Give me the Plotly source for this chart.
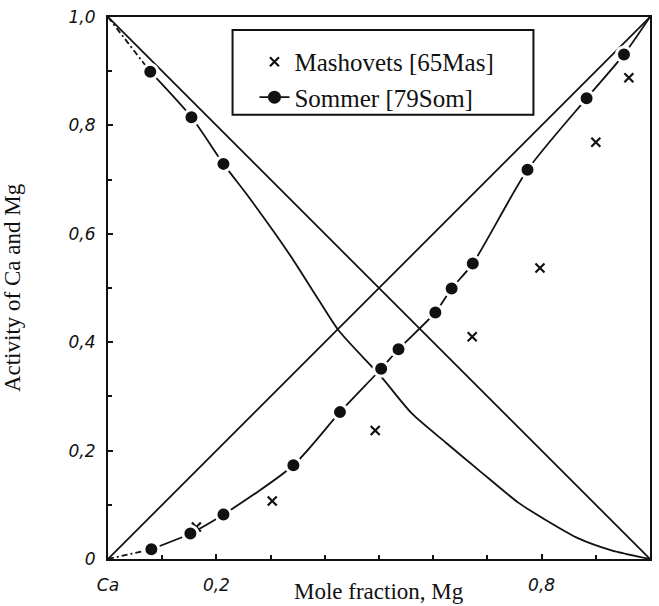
import plotly.graph_objects as go

# ---- data ----
ideal_x = [0.0, 1.0]
raoult_mg = [0.0, 1.0]
raoult_ca = [1.0, 0.0]

# Ca activity curve (solid)
ca_curve_x = [0.078, 0.154, 0.213, 0.261, 0.335, 0.390, 0.426, 0.505, 0.561, 0.623, 0.684, 0.757, 0.806, 0.868, 0.929, 1.0]
ca_curve_y = [0.899, 0.815, 0.729, 0.666, 0.562, 0.476, 0.421, 0.335, 0.268, 0.215, 0.164, 0.104, 0.073, 0.038, 0.016, 0.0]
ca_start_x = [0.0, 0.078]
ca_start_y = [1.0, 0.899]

# Sommer [79Som] data
som_ca_x = [0.078, 0.154, 0.213]
som_ca_y = [0.899, 0.815, 0.729]
som_mg_x = [0.080, 0.152, 0.213, 0.342, 0.428, 0.504, 0.536, 0.604, 0.634, 0.673, 0.774, 0.883, 0.952]
som_mg_y = [0.018, 0.047, 0.082, 0.173, 0.271, 0.351, 0.387, 0.455, 0.499, 0.545, 0.718, 0.850, 0.931]
som_line_x = som_mg_x + [1.0]
som_line_y = som_mg_y + [1.0]
som_start_x = [0.0, 0.080]
som_start_y = [0.0, 0.018]

# Mashovets [65Mas] data
mas_x = [0.163, 0.303, 0.493, 0.672, 0.797, 0.900, 0.961]
mas_y = [0.059, 0.107, 0.237, 0.410, 0.537, 0.769, 0.888]

# axis ticks
x_tick_vals = [0.0, 0.2, 0.8, 1.0]
x_tick_text = ["Ca", "0,2", "0,8", "Mg"]
y_tick_vals = [0.0, 0.2, 0.4, 0.6, 0.8, 1.0]
y_tick_text = ["0", "0,2", "0,4", "0,6", "0,8", "1,0"]

INK = "#111111"
LW = 1.8

fig = go.Figure()

# ideal (Raoult) straight lines
fig.add_trace(go.Scatter(x=ideal_x, y=raoult_mg, mode="lines",
                         line=dict(color=INK, width=LW), showlegend=False, hoverinfo="skip"))
fig.add_trace(go.Scatter(x=ideal_x, y=raoult_ca, mode="lines",
                         line=dict(color=INK, width=LW), showlegend=False, hoverinfo="skip"))

# Ca activity curve
fig.add_trace(go.Scatter(x=ca_start_x, y=ca_start_y, mode="lines",
                         line=dict(color=INK, width=LW, dash="6px,3px,2px,3px"),
                         showlegend=False, hoverinfo="skip"))
fig.add_trace(go.Scatter(x=ca_curve_x, y=ca_curve_y, mode="lines",
                         line=dict(color=INK, width=LW, shape="spline", smoothing=0.7),
                         showlegend=False, hoverinfo="skip"))

# Sommer Mg line
fig.add_trace(go.Scatter(x=som_start_x, y=som_start_y, mode="lines",
                         line=dict(color=INK, width=LW, dash="6px,3px,2px,3px"),
                         showlegend=False, hoverinfo="skip"))
fig.add_trace(go.Scatter(x=som_line_x, y=som_line_y, mode="lines",
                         line=dict(color=INK, width=LW, shape="spline", smoothing=0.7),
                         showlegend=False, hoverinfo="skip"))

# Mashovets markers
fig.add_trace(go.Scatter(x=mas_x, y=mas_y, mode="markers", name="Mashovets [65Mas]",
                         marker=dict(symbol="x-thin", size=9, line=dict(color=INK, width=2.2), color=INK)))

# Sommer dots
dot = dict(symbol="circle", size=15, color=INK, line=dict(color="white", width=3))
fig.add_trace(go.Scatter(x=som_mg_x, y=som_mg_y, mode="markers", marker=dot,
                         showlegend=False, hoverinfo="x+y"))
fig.add_trace(go.Scatter(x=som_ca_x, y=som_ca_y, mode="markers", marker=dot,
                         showlegend=False, hoverinfo="x+y"))
# legend entry for Sommer (line + dot)
fig.add_trace(go.Scatter(x=[None], y=[None], mode="lines+markers", name="Sommer [79Som]",
                         marker=dict(symbol="circle", size=13, color=INK),
                         line=dict(color=INK, width=LW)))

tickfont = dict(family="DejaVu Sans", size=17, color=INK, style="italic")

fig.update_xaxes(range=[0, 1], showline=True, linecolor=INK, linewidth=2, mirror=True,
                 showgrid=False, zeroline=False,
                 tickmode="array", tickvals=x_tick_vals, ticktext=x_tick_text,
                 ticks="inside", ticklen=5, tickwidth=1.5, tickcolor=INK,
                 ticklabelstandoff=10, tickfont=tickfont,
                 minor=dict(dtick=0.1, ticks="inside", ticklen=4, tickwidth=1.5, tickcolor=INK, showgrid=False))
fig.update_yaxes(range=[0, 1], showline=True, linecolor=INK, linewidth=2, mirror=True,
                 showgrid=False, zeroline=False,
                 tickmode="array", tickvals=y_tick_vals, ticktext=y_tick_text,
                 ticks="inside", ticklen=5, tickwidth=1.5, tickcolor=INK,
                 ticklabelstandoff=7, tickfont=tickfont,
                 minor=dict(dtick=0.1, ticks="inside", ticklen=4, tickwidth=1.5, tickcolor=INK, showgrid=False),
                 title=dict(text="Activity of Ca and Mg", standoff=42,
                            font=dict(family="Liberation Serif", size=23, color=INK)))

PX_L, PX_R, PX_T, PX_B = 108, 652, 15, 559
W = PX_R - PX_L
H = PX_B - PX_T

def px_x(p):
    return (p - PX_L) / W

def px_y(p):
    return (PX_B - p) / H

fig.add_annotation(text="Mole fraction, Mg", xref="paper", yref="paper",
                   x=0.5, y=px_y(592), xanchor="center", yanchor="middle", showarrow=False,
                   font=dict(family="Liberation Serif", size=23, color=INK))

# legend box
fig.add_shape(type="rect", xref="paper", yref="paper",
              x0=px_x(233), x1=px_x(535), y0=px_y(113), y1=px_y(28),
              line=dict(color=INK, width=2), fillcolor="rgba(0,0,0,0)", layer="above")

fig.update_layout(
    width=659, height=606,
    margin=dict(l=PX_L, r=659 - PX_R, t=PX_T, b=606 - PX_B),
    paper_bgcolor="white", plot_bgcolor="white",
    showlegend=True,
    legend=dict(x=px_x(255), y=px_y(37), xanchor="left", yanchor="top",
                bgcolor="rgba(0,0,0,0)", borderwidth=0,
                font=dict(family="Liberation Serif", size=25, color=INK),
                tracegroupgap=0, itemsizing="trace"),
)

fig.write_html("out.html")
